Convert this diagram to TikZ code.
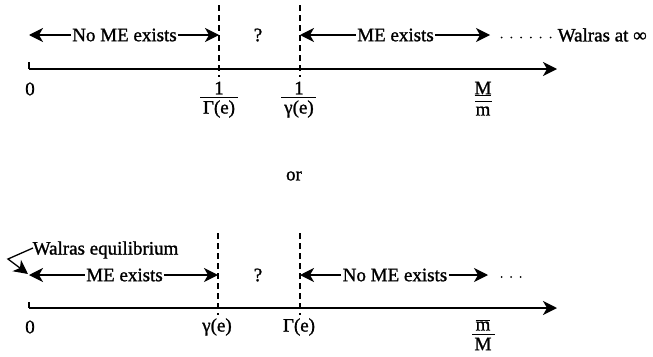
\documentclass[tikz,border=0pt]{standalone}
\usepackage{fontspec}
\setmainfont{Liberation Serif}
\newfontfamily\heavyserif{Liberation Serif}[FakeBold=1.2]
\usetikzlibrary{arrows.meta}
\begin{document}
\begin{tikzpicture}[x=1pt,y=-1pt,
  lbl/.style={font=\heavyserif\fontsize{19}{21}\selectfont, inner sep=1.5pt},
  axisline/.style={line width=1.6pt, -{Stealth[length=14pt,width=14pt,inset=4pt]}},
  rng/.style={line width=1.3pt},
  tipped/.style={-{Stealth[length=14pt,width=14pt,inset=4pt]}},
  dsh/.style={line width=1.3pt, dash pattern=on 6pt off 4pt},
  tickline/.style={line width=1.2pt},
  fbar/.style={line width=1.1pt},
  dotc/.style={fill=black},
]
\useasboundingbox (0,0) rectangle (653,356);

% ---------------- top diagram ----------------
\coordinate (a0) at (29,69);
\coordinate (aend) at (557,69);
\coordinate (t0) at (29,62);
\draw[axisline] (a0) -- (aend);
\draw[tickline] (t0) -- (a0);

\coordinate (d1t) at (219,5);  \coordinate (d1b) at (219,77);
\coordinate (d2t) at (300,5);  \coordinate (d2b) at (300,77);
\draw[dsh] (d1t) -- (d1b);
\draw[dsh] (d2t) -- (d2b);

\coordinate (r1l) at (29,35);
\coordinate (r1m) at (219,35);
\coordinate (r1n) at (300,35);
\coordinate (r1r) at (490,35);
\node[lbl] (noME) at (124.5,35) {No ME exists};
\draw[rng,tipped] (noME.west) -- (r1l);
\draw[rng,tipped] (noME.east) -- (r1m);
\node[lbl] (q1) at (258,35) {?};
\node[lbl] (ME1) at (395.5,35) {ME exists};
\draw[rng,tipped] (ME1.west) -- (r1n);
\draw[rng,tipped] (ME1.east) -- (r1r);
\foreach \i in {0,...,5} {\fill[dotc] (501.5+9.8*\i,37.5) circle (1pt);}
\node[lbl,anchor=west] (walinf) at (556,35) {Walras at ∞};

\node[lbl] (zero1) at (30,89) {0};
\node[lbl] (one1) at (219,88) {1};
\coordinate (b1l) at (200,97.5); \coordinate (b1r) at (238,97.5);
\draw[fbar] (b1l) -- (b1r);
\node[lbl] (Gam1) at (219,109) {Γ(e)};
\node[lbl] (one2) at (299,88) {1};
\coordinate (b2l) at (281,97.5); \coordinate (b2r) at (316,97.5);
\draw[fbar] (b2l) -- (b2r);
\node[lbl] (gam1) at (299,109) {γ(e)};
\node[lbl] (Mu) at (483,89) {\underline{M}};
\coordinate (b3l) at (475,101.5); \coordinate (b3r) at (492,101.5);
\draw[fbar] (b3l) -- (b3r);
\node[lbl] (m1) at (483,111) {m};

\node[lbl] (or) at (294,176) {or};

% ---------------- bottom diagram ----------------
\coordinate (c0) at (29,308);
\coordinate (cend) at (557,308);
\coordinate (u0) at (29,302);
\draw[axisline] (c0) -- (cend);
\draw[tickline] (u0) -- (c0);

\coordinate (e1t) at (218,233);  \coordinate (e1b) at (218,315);
\coordinate (e2t) at (300,233);  \coordinate (e2b) at (300,315);
\draw[dsh] (e1t) -- (e1b);
\draw[dsh] (e2t) -- (e2b);

\coordinate (r2l) at (29,275);
\coordinate (r2m) at (218,275);
\coordinate (r2n) at (300,275);
\coordinate (r2r) at (488,275);
\node[lbl] (ME2) at (124.5,275) {ME exists};
\draw[rng,tipped] (ME2.west) -- (r2l);
\draw[rng,tipped] (ME2.east) -- (r2m);
\node[lbl] (q2) at (258,275) {?};
\node[lbl] (noME2) at (395,275) {No ME exists};
\draw[rng,tipped] (noME2.west) -- (r2n);
\draw[rng,tipped] (noME2.east) -- (r2r);
\foreach \i in {0,...,2} {\fill[dotc] (501.5+9.5*\i,277) circle (1pt);}

\node[lbl,anchor=west] (weq) at (31,250) {Walras equilibrium};
\coordinate (wstart) at (33,248);
\coordinate (wbend) at (8,259);
\coordinate (wtip) at (28,274);
\draw[rng,tipped] (wstart) -- (wbend) -- (wtip);

\node[lbl] (zero2) at (30,327) {0};
\node[lbl] (gam2) at (217,327) {γ(e)};
\node[lbl] (Gam2) at (299,327) {Γ(e)};
\node[lbl] (mo) at (483,325) {$\overline{\hbox{m}}$};
\coordinate (b4l) at (472,334.5); \coordinate (b4r) at (495,334.5);
\draw[fbar] (b4l) -- (b4r);
\node[lbl] (M2) at (483,344) {M};
\end{tikzpicture}
\end{document}
